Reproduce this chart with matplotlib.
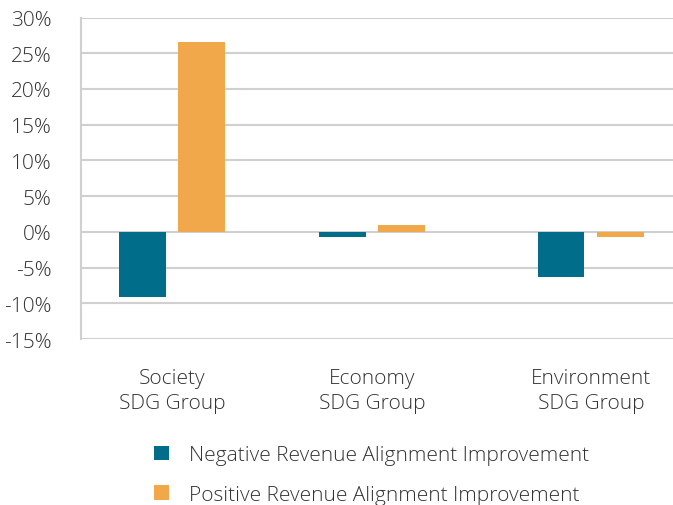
import numpy as np
import matplotlib
matplotlib.use("Agg")
import matplotlib.pyplot as plt

# data
groups = ["Society\nSDG Group", "Economy\nSDG Group", "Environment\nSDG Group"]
negative = [-9.1, -0.65, -6.3]
positive = [26.6, 1.0, -0.7]
series_names = ["Negative Revenue Alignment Improvement",
                "Positive Revenue Alignment Improvement"]
yticks = [-15, -10, -5, 0, 5, 10, 15, 20, 25, 30]

# group positions (the reference spacing is slightly uneven)
xpos = np.array([0, 1, 2.09])
teal = "#006e8a"
orange = "#f0a84b"
txt = "#333333"
grid = "#d0d0d0"

plt.rcParams['font.family'] = ['Open Sans', 'DejaVu Sans']
plt.rcParams['font.weight'] = 'light'
fs = 15

fig = plt.figure(figsize=(6.73, 5.06), dpi=100)
ax = fig.add_axes([0.1204, 0.328, 0.8796, 0.6354])

w = 0.234
b1 = ax.bar(xpos - 0.149, negative, w, color=teal, label=series_names[0], zorder=3)
b2 = ax.bar(xpos + 0.147, positive, w, color=orange, label=series_names[1], zorder=3)

ax.set_ylim(-15, 30)
ax.set_xlim(-0.454, 2.5)
ax.set_yticks(yticks)
ax.set_yticklabels([str(v) + "%" for v in yticks], fontsize=fs, color=txt)
ax.set_xticks(xpos)
ax.set_xticklabels(groups, fontsize=fs, color=txt, linespacing=1.3)
ax.tick_params(axis='y', length=0, pad=21)
ax.tick_params(axis='x', length=0, pad=21)
ax.yaxis.grid(True, color=grid, linewidth=1.5, zorder=0)
ax.set_axisbelow(True)
for s in ["top", "right", "bottom"]:
    ax.spines[s].set_visible(False)
ax.spines["left"].set_color(grid)
ax.spines["left"].set_linewidth(1.5)

fig.legend(handles=[b1, b2], loc="center left", bbox_to_anchor=(0.229, 0.059),
           frameon=False, fontsize=fs, labelcolor=txt, handlelength=0.72,
           handleheight=0.72, handletextpad=0.96, labelspacing=0.95,
           borderpad=0, borderaxespad=0)

fig.savefig("out.png", dpi=100)
